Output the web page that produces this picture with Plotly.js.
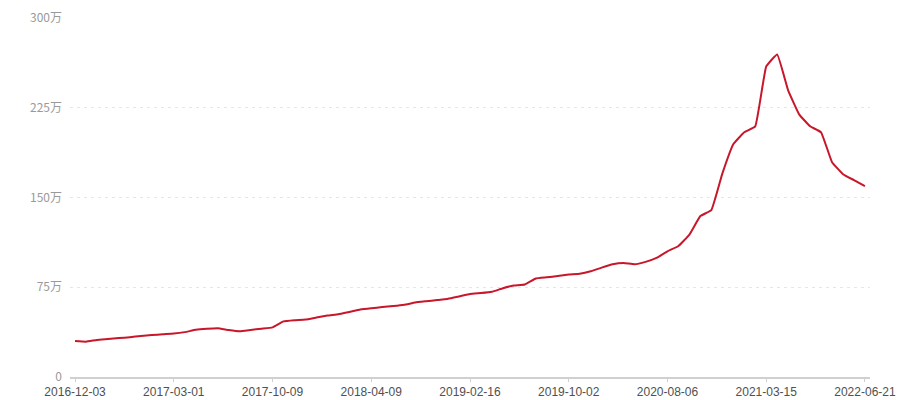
<!DOCTYPE html>
<html>
<head>
<meta charset="utf-8">
<script src="https://cdn.plot.ly/plotly-3.0.1.min.js"></script>
<style>html,body{margin:0;padding:0;background:#fff;}#chart{width:900px;height:400px;}</style>
</head>
<body>
<div id="chart"></div>
<script>
// values in 万, one per period (73 points)
const values = [
  30, 29.5, 31, 31.7, 32.5, 33.3, 34.2, 35, 35.7, 36.3,
  37.5, 39.4, 40.3, 40.8, 39.2, 38.2, 39.3, 40.4, 41.5, 46.5,
  47.5, 48, 49.7, 51.4, 52.5, 54.4, 56.4, 57.5, 58.4, 59.3,
  60.4, 62.2, 63.3, 64.3, 65.4, 67.3, 69.3, 70.1, 71.2, 74.2,
  76.4, 77.3, 82.3, 83.3, 84.4, 85.6, 86.3, 88.3, 91.4, 94.2,
  95.2, 94.2, 96.2, 99.5, 105, 109.5, 119, 134.5, 139.5, 170,
  194.5, 204.5, 209.5, 259.5, 269.5, 239.5, 219.5, 209.5, 204.5, 179.5,
  169.5, 164.5, 159.5
];
const tickIndex = [0, 9, 18, 27, 36, 45, 54, 63, 72];
const tickLabels = ['2016-12-03', '2017-03-01', '2017-10-09', '2018-04-09', '2019-02-16', '2019-10-02', '2020-08-06', '2021-03-15', '2022-06-21'];
const yTickVals = [0, 75, 150, 225, 300];
const yTickText = ['0', '75万', '150万', '225万', '300万'];

const xs = values.map((v, i) => i);

const trace = {
  x: xs,
  y: values,
  type: 'scatter',
  mode: 'lines',
  line: {color: '#c8162b', width: 2, shape: 'spline', smoothing: 0.3},
  hoverinfo: 'skip'
};

const font = '"Noto Sans CJK SC", "Noto Sans", sans-serif';
const layout = {
  width: 900, height: 400,
  margin: {l: 70, r: 30, t: 18, b: 23},
  paper_bgcolor: '#fff', plot_bgcolor: '#fff',
  showlegend: false,
  font: {family: font, size: 12},
  xaxis: {
    range: [-0.46, 72.46],
    tickmode: 'array', tickvals: tickIndex, ticktext: tickLabels,
    showgrid: false, zeroline: false,
    showline: true, linecolor: '#d0d0d0', linewidth: 2,
    ticks: 'outside', ticklen: 3, tickcolor: '#d0d0d0', tickwidth: 1,
    tickfont: {color: '#505050', size: 12, family: '"Liberation Sans", Arial, sans-serif'},
    ticklabelstandoff: 0,
    automargin: false, fixedrange: true
  },
  yaxis: {
    range: [0, 300],
    tickmode: 'array', tickvals: yTickVals, ticktext: yTickText,
    showgrid: true, gridcolor: '#e6e6e6', griddash: '3px,4px', gridwidth: 1.2,
    zeroline: false, showline: false, ticks: '',
    tickfont: {color: '#9a9a9a', size: 12, family: font},
    ticklabelstandoff: 7,
    automargin: false, fixedrange: true
  }
};

Plotly.newPlot('chart', [trace], layout, {displayModeBar: false, staticPlot: true});
</script>
</body>
</html>
